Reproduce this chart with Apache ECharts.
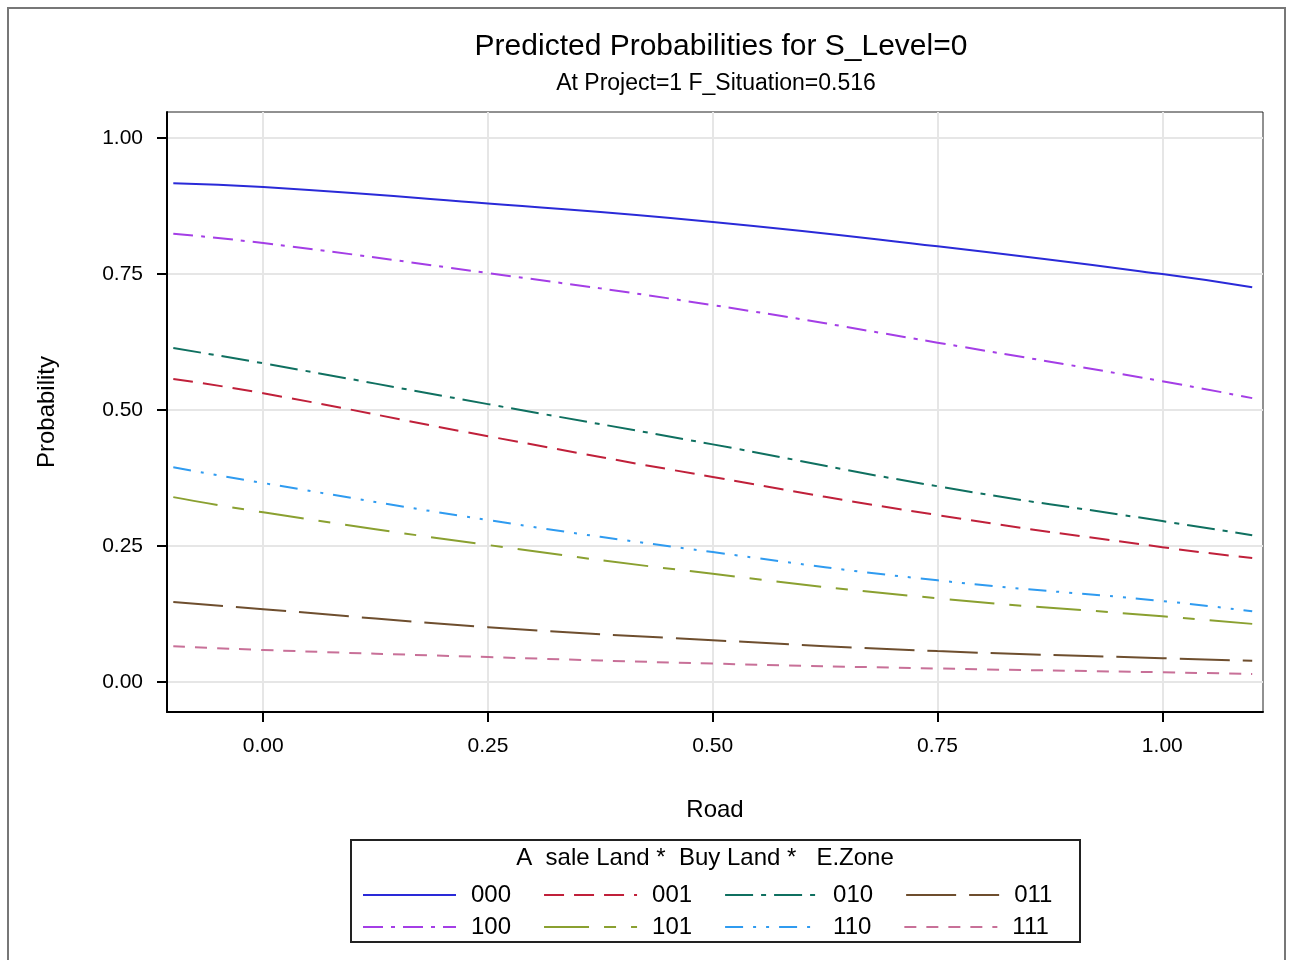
<!DOCTYPE html>
<html><head><meta charset="utf-8">
<script src="https://cdn.jsdelivr.net/npm/echarts@6/dist/echarts.min.js"></script>
<style>html,body{margin:0;padding:0;background:#fff}#c{width:1290px;height:960px}</style>
</head><body><div id="c"></div>
<script>
const xValues = [-0.1, 0, 0.25, 0.5, 0.75, 1.0, 1.1];
const tickValues = [0, 0.25, 0.5, 0.75, 1.0];
const seriesNames = ['000', '001', '010', '011', '100', '101', '110', '111'];
const s000 = [0.917, 0.910, 0.880, 0.846, 0.801, 0.750, 0.726];
const s001 = [0.557, 0.531, 0.452, 0.377, 0.307, 0.248, 0.228];
const s010 = [0.614, 0.586, 0.511, 0.437, 0.360, 0.296, 0.270];
const s011 = [0.147, 0.134, 0.101, 0.077, 0.057, 0.044, 0.039];
const s100 = [0.824, 0.807, 0.752, 0.693, 0.624, 0.553, 0.522];
const s101 = [0.340, 0.312, 0.252, 0.199, 0.154, 0.121, 0.107];
const s110 = [0.395, 0.366, 0.298, 0.239, 0.187, 0.149, 0.130];
const s111 = [0.066, 0.059, 0.046, 0.034, 0.025, 0.018, 0.015];
const seriesValues = [s000, s001, s010, s011, s100, s101, s110, s111];

const colors = ['#2a2ad8', '#c0203a', '#0f7060', '#6e4e2e', '#a43ee6', '#8aa030', '#2f9bf0', '#c87098'];
const dashes = ['solid', [20,10], [28,8,5,8], [50,13], [20,8,4,8], [45,15,12,15], [18,10,3,10,3,10], [12,10]];

const FONT = '"Liberation Sans Narrow", "Liberation Sans", Arial, sans-serif';
const chart = echarts.init(document.getElementById('c'));
const fmt = v => v.toFixed(2);
const legendBase = {left: 357, itemWidth: 93, itemHeight: 14, itemGap: 32,
  itemStyle: {opacity: 0, borderWidth: 0},
  textStyle: {fontFamily: FONT, fontSize: 24, color: '#000', padding: [0, 0, 0, 10]}};

chart.setOption({
  animation: false,
  backgroundColor: '#fff',
  title: [
    {text: 'Predicted Probabilities for S_Level=0', left: 716, textAlign: 'center', top: 27,
     textStyle: {fontFamily: FONT, fontSize: 30, fontWeight: 'normal', color: '#000'}},
    {text: 'At Project=1 F_Situation=0.516', left: 711, textAlign: 'center', top: 67,
     textStyle: {fontFamily: FONT, fontSize: 23, fontWeight: 'normal', color: '#000'}}
  ],
  grid: {left: 167, right: 27, top: 112, bottom: 248, show: true, borderColor: '#222', borderWidth: 1},
  xAxis: {
    type: 'value', min: -0.107, max: 1.112,
    name: 'Road', nameLocation: 'middle', nameGap: 86,
    nameTextStyle: {fontFamily: FONT, fontSize: 24, color: '#000'},
    axisLine: {show: true, onZero: false, lineStyle: {color: '#000', width: 2}},
    axisTick: {show: true, length: 10, customValues: tickValues, lineStyle: {color: '#000', width: 2}},
    axisLabel: {customValues: tickValues, formatter: fmt, margin: 24, fontFamily: FONT, fontSize: 21, color: '#000'},
    splitLine: {show: true, lineStyle: {color: '#e6e6e6', width: 2}}
  },
  yAxis: {
    type: 'value', min: -0.055, max: 1.048,
    name: 'Probability', nameLocation: 'middle', nameGap: 108, nameRotate: 90,
    nameTextStyle: {fontFamily: FONT, fontSize: 24, color: '#000'},
    axisLine: {show: true, onZero: false, lineStyle: {color: '#000', width: 2}},
    axisTick: {show: true, length: 10, customValues: tickValues, lineStyle: {color: '#000', width: 2}},
    axisLabel: {customValues: tickValues, formatter: fmt, margin: 24, fontFamily: FONT, fontSize: 21, color: '#000'},
    splitLine: {show: true, lineStyle: {color: '#e6e6e6', width: 2}}
  },
  legend: [
    Object.assign({}, legendBase, {data: seriesNames.slice(0, 4), top: 878}),
    Object.assign({}, legendBase, {data: seriesNames.slice(4), top: 910})
  ],
  graphic: [
    {type: 'rect', shape: {x: 8, y: 8, width: 1277, height: 970}, style: {fill: 'none', stroke: '#777', lineWidth: 2}, silent: true, z: -10},
    {type: 'rect', shape: {x: 351, y: 840, width: 729, height: 102}, style: {fill: 'none', stroke: '#222', lineWidth: 2}, silent: true},
    {type: 'text', x: 705, y: 846, style: {text: 'A  sale Land *  Buy Land *   E.Zone', align: 'center', fontFamily: FONT, fontSize: 24, fill: '#000'}, silent: true}
  ],
  series: seriesNames.map((n, i) => ({
    name: n, type: 'line', smooth: true, symbol: 'none', showSymbol: false,
    data: xValues.map((x, j) => [x, seriesValues[i][j]]),
    lineStyle: {color: colors[i], width: 2, type: dashes[i]},
    itemStyle: {color: colors[i]}
  }))
});
</script>
</body></html>
